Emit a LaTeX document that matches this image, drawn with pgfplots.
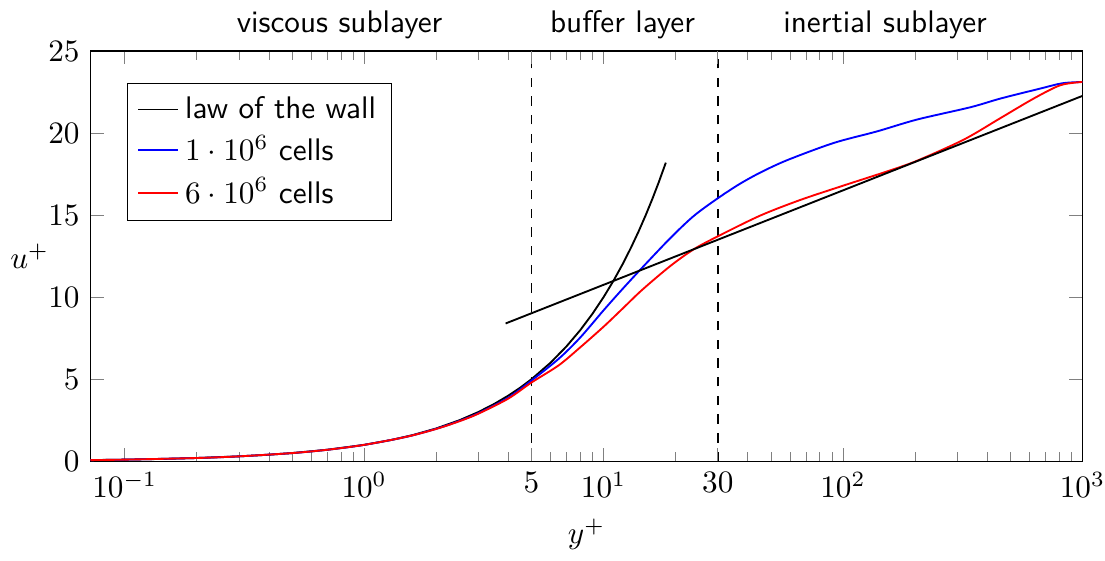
\documentclass[border=0pt]{standalone}
\usepackage{pgfplots}
\pgfplotsset{compat=1.18}
\renewcommand{\familydefault}{\sfdefault}
\begin{document}
\begin{tikzpicture}
\begin{axis}[
  xmode=log,
  scale only axis,
  width=318pt, height=131.5pt,
  xmin=0.072, xmax=1000,
  ymin=0, ymax=25,
  ytick={0,5,10,15,20,25},
  xtick={0.1,1,10,100,1000},
  xticklabel style={inner xsep=0pt},
  extra x ticks={5,30},
  extra x tick labels={$5$,$30$},
  extra x tick style={grid=major, major grid style={black, dashed, semithick}},
  xlabel={$y^+$},
  legend style={at={(0.037,0.922)}, anchor=north west, draw=black, font=\normalsize},
  legend image code/.code={\draw[#1] plot coordinates {(0cm,0cm) (0.22cm,0cm) (0.45cm,0cm)};},
  legend cell align=left,
  clip=false,
]
\addplot[black, semithick] coordinates {
(0.072,0.072) (0.1,0.1) (0.15,0.15) (0.2,0.2) (0.3,0.3) (0.4,0.4) (0.5,0.5) (0.7,0.7)
(1,1) (1.3,1.3) (1.6,1.6) (2,2) (2.5,2.5) (3,3) (3.5,3.5) (4,4) (4.5,4.5) (5,5)
(6,6) (7,7) (8,8) (9,9) (10,10) (11,11) (12,12) (13,13) (14,14) (15,15) (16,16) (17,17) (18.2,18.2)
};
\addlegendentry{law of the wall}
\addplot[blue, semithick, smooth] coordinates {
(0.072,0.072) (0.1,0.1) (0.2,0.2) (0.3,0.3) (0.5,0.5) (0.7,0.7) (1,1.0) (1.5,1.49)
(2,1.98) (2.5,2.46) (3,2.93) (4,3.88) (5,4.92) (6.5,6.25) (8,7.55) (10,9.2)
(12,10.5) (14.5,11.8) (19,13.6) (23.8,14.95) (30,16.03) (37,16.9) (45.2,17.6) (58.4,18.35)
(91.4,19.4) (139,20.11) (204,20.83) (341,21.58) (455,22.11) (668,22.72) (824,23.04) (1000,23.12)
};
\addlegendentry{$1\cdot10^6$ cells}
\addplot[red, semithick, smooth] coordinates {
(0.072,0.072) (0.1,0.1) (0.2,0.2) (0.3,0.3) (0.5,0.5) (0.7,0.7) (1,1.0) (1.5,1.49)
(2,1.97) (2.5,2.44) (3,2.9) (4,3.82) (5,4.8) (6.5,5.85) (8,6.95) (10,8.2)
(12,9.3) (14.5,10.45) (19,11.9) (23.8,12.92) (30,13.71) (45.2,14.98) (66.4,15.93)
(100.7,16.81) (153,17.67) (204,18.32) (319,19.6) (455,20.92) (626,22.11) (809,22.92) (1000,23.12)
};
\addlegendentry{$6\cdot10^6$ cells}
\addplot[black, semithick, forget plot] coordinates {(3.9,8.40) (1000,22.27)};
\node at (rel axis cs:0,0.5) [xshift=-19.5pt] {$u^+$};
\node[anchor=base] at (axis cs:0.79,25) [yshift=6pt] {viscous sublayer};
\node[anchor=base] at (axis cs:12,25) [yshift=6pt] {buffer layer};
\node[anchor=base] at (axis cs:150,25) [yshift=6pt] {inertial sublayer};
\end{axis}
\end{tikzpicture}
\end{document}
